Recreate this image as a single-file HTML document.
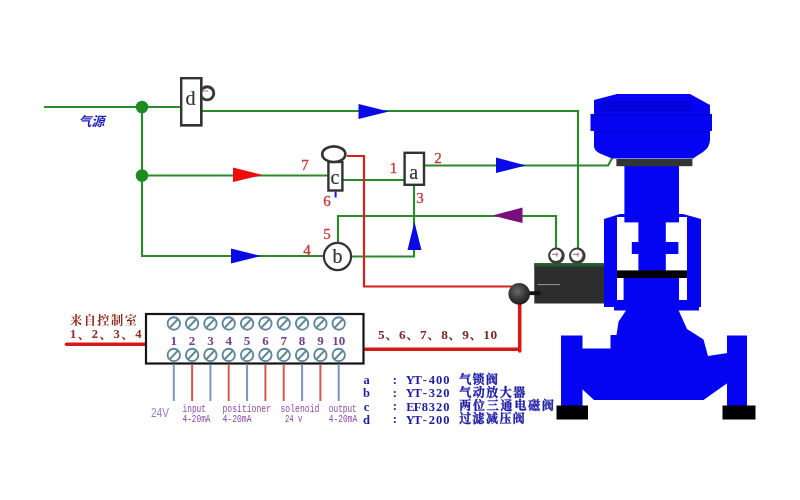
<!DOCTYPE html>
<html lang="zh">
<head>
<meta charset="utf-8">
<title>气动调节阀控制回路图</title>
<style>
html,body{margin:0;padding:0;background:#fff;}
body{width:800px;height:500px;overflow:hidden;position:relative;}
svg{display:block;position:absolute;left:0;top:0;filter:blur(0.55px);}
.g{stroke:#2a8a2a;stroke-width:2.15;fill:none;stroke-linejoin:miter;}
.r{stroke:#da1e1e;stroke-width:2.2;fill:none;}
.rk{stroke:#d81818;stroke-width:3.6;fill:none;stroke-linecap:round;}
.bx{fill:#fff;stroke:#333;stroke-width:2.4;}
.lt{font-family:"Liberation Serif","Noto Serif CJK SC",serif;font-size:20px;fill:#333;stroke:#333;stroke-width:0.2;text-anchor:middle;}
.num{font-family:"Liberation Serif","Noto Serif CJK SC",serif;font-size:15px;fill:#c43636;stroke:#c43636;stroke-width:0.3;text-anchor:middle;}
.tn{font-family:"Liberation Serif","Noto Serif CJK SC",serif;font-size:13px;font-weight:bold;fill:#74408c;text-anchor:middle;}
.sm{font-family:"Liberation Mono","Noto Sans CJK SC",monospace;font-size:10px;fill:#8a4aa8;}
.lg{font-family:"Liberation Serif","Noto Serif CJK SC",serif;font-size:12.5px;font-weight:bold;fill:#1c1ca6;text-anchor:middle;}
.lgc{font-family:"Liberation Serif","Noto Serif CJK SC",serif;font-size:12px;font-weight:bold;fill:#1c1ca6;stroke:#1c1ca6;stroke-width:0.35;}
.dr{font-family:"Liberation Serif","Noto Serif CJK SC",serif;font-weight:bold;fill:#8c2a1c;}
.tc{fill:#fff;stroke:#5f8799;stroke-width:1.9;}
.tl{stroke:#5f8799;stroke-width:1.9;}
.wb{stroke:#7795bd;stroke-width:2;}
.wr{stroke:#d05a4c;stroke-width:2;}
.bl{fill:#0404f2;}
</style>
</head>
<body>
<svg width="800" height="500" viewBox="0 0 800 500">
<rect x="0" y="0" width="800" height="500" fill="#ffffff"/>

<!-- ============ green pneumatic lines ============ -->
<g class="g">
  <path d="M44 107 H181"/>
  <path d="M201 111 H578 V249"/>
  <path d="M142 107 V256 H323"/>
  <path d="M142 175.5 H328"/>
  <path d="M343 180 H404"/>
  <path d="M424 165.5 H608 L614 155"/>
  <path d="M352 256.5 H414 V186"/>
  <path d="M338 242 V216 H556 V249"/>
</g>
<circle cx="142" cy="107" r="6.3" fill="#1f8a1f"/>
<circle cx="142" cy="175.5" r="6.3" fill="#1f8a1f"/>

<!-- ============ arrows ============ -->
<polygon points="358.5,104 358.5,119 389,111.5" fill="#0a0ae6"/>
<polygon points="233,167.5 233,182 262.5,175" fill="#ee0d0d"/>
<polygon points="231,248.5 231,263.5 261,256" fill="#0a0ae6"/>
<polygon points="496,157.5 496,173 526,165.5" fill="#0a0ae6"/>
<polygon points="407.5,250 421.5,250 414.4,222" fill="#0a0ae6"/>
<polygon points="522.5,207.5 522.5,223 492.5,215.5" fill="#7a0f7c"/>

<!-- ============ red electrical lines ============ -->
<path class="r" d="M347 156 H364 V286.5 H512"/>
<path class="rk" d="M519.7 300 V351 M519.7 349.3 H365.5"/>
<path class="rk" d="M66.5 344.3 H145"/>

<!-- ============ component d ============ -->
<rect class="bx" x="181.2" y="78.2" width="20" height="47"/>
<circle cx="207.2" cy="93.3" r="6.6" fill="#fff" stroke="#383838" stroke-width="2.9"/>
<rect x="191" y="82" width="11.2" height="22" fill="#fff"/>
<rect class="bx" x="181.2" y="78.2" width="20" height="47" fill="none"/>
<path d="M203 91 h5" stroke="#c66" stroke-width="1"/>
<text class="lt" x="190.5" y="104.5">d</text>

<!-- ============ component c ============ -->
<rect class="bx" x="328.4" y="162" width="14" height="28.5"/>
<ellipse cx="333.8" cy="154.2" rx="11.6" ry="7.8" fill="#fff" stroke="#333" stroke-width="2.6"/>
<path d="M335.6 191.5 V197.5" stroke="#1a1acc" stroke-width="2"/>
<text class="lt" x="335" y="184">c</text>

<!-- ============ component a ============ -->
<rect class="bx" x="404.6" y="152.8" width="19.4" height="32"/>
<text class="lt" x="413.8" y="178.5">a</text>

<!-- ============ component b ============ -->
<circle cx="337.5" cy="256.5" r="13.6" fill="#fff" stroke="#333" stroke-width="2.2"/>
<text class="lt" x="337.5" y="263">b</text>

<!-- ============ port numbers ============ -->
<text class="num" x="305" y="170">7</text>
<text class="num" x="327" y="205.5">6</text>
<text class="num" x="393.5" y="172.5">1</text>
<text class="num" x="438" y="162.5">2</text>
<text class="num" x="420" y="202.5">3</text>
<text class="num" x="327" y="238.5">5</text>
<text class="num" x="307" y="254.5">4</text>

<!-- ============ 气源 label ============ -->
<text x="78.5" y="125.5" font-family='"Liberation Sans","Noto Sans CJK SC",sans-serif' font-size="13" font-weight="bold" font-style="italic" fill="#1b1bb8">气源</text>

<!-- ============ positioner box + gauges + ball ============ -->
<circle cx="556.4" cy="255.8" r="8.3" fill="#3d3d3d"/>
<circle cx="577.3" cy="255.8" r="8.3" fill="#3d3d3d"/>
<circle cx="555.9" cy="255.2" r="5.7" fill="#fff"/>
<circle cx="576.8" cy="255.2" r="5.7" fill="#fff"/>
<path d="M552 254.3 h6 m-1.2 -1.6 v4" stroke="#a55" stroke-width="0.9" fill="none"/>
<path d="M573 254.3 h6 m-1.2 -1.6 v4" stroke="#a55" stroke-width="0.9" fill="none"/>
<rect x="534.3" y="263.3" width="70" height="40.2" fill="#2d2d2d"/>
<rect x="534.3" y="263.3" width="70" height="3.2" fill="#225a2c"/>
<path d="M537.4 284.6 H560" stroke="#9a9a9a" stroke-width="1"/>
<path d="M528 293.2 H540.5" stroke="#111" stroke-width="3.8"/>
<defs>
  <radialGradient id="ball" cx="0.42" cy="0.38" r="0.65">
    <stop offset="0" stop-color="#6a6a6a"/>
    <stop offset="0.55" stop-color="#3a3a3a"/>
    <stop offset="1" stop-color="#1c1c1c"/>
  </radialGradient>
</defs>
<circle cx="519.2" cy="293.8" r="10.8" fill="url(#ball)"/>

<!-- ============ terminal box ============ -->
<rect x="146" y="314" width="217.5" height="49.5" fill="#fff" stroke="#141414" stroke-width="2.2"/>
<g id="terms">
<circle class="tc" cx="173.8" cy="323.5" r="6.2"/><path class="tl" d="M169.4 328.0 L178.1 319.0"/>
<circle class="tc" cx="173.8" cy="355" r="6.2"/><path class="tl" d="M169.4 359.5 L178.1 350.5"/>
<text class="tn" x="173.8" y="345.3">1</text>
<path class="wb" d="M173.8 364.4 V401"/>
<circle class="tc" cx="192.1" cy="323.5" r="6.2"/><path class="tl" d="M187.8 328.0 L196.4 319.0"/>
<circle class="tc" cx="192.1" cy="355" r="6.2"/><path class="tl" d="M187.8 359.5 L196.4 350.5"/>
<text class="tn" x="192.1" y="345.3">2</text>
<path class="wr" d="M192.1 364.4 V401"/>
<circle class="tc" cx="210.4" cy="323.5" r="6.2"/><path class="tl" d="M206.1 328.0 L214.7 319.0"/>
<circle class="tc" cx="210.4" cy="355" r="6.2"/><path class="tl" d="M206.1 359.5 L214.7 350.5"/>
<text class="tn" x="210.4" y="345.3">3</text>
<path class="wb" d="M210.4 364.4 V401"/>
<circle class="tc" cx="228.7" cy="323.5" r="6.2"/><path class="tl" d="M224.4 328.0 L233.0 319.0"/>
<circle class="tc" cx="228.7" cy="355" r="6.2"/><path class="tl" d="M224.4 359.5 L233.0 350.5"/>
<text class="tn" x="228.7" y="345.3">4</text>
<path class="wr" d="M228.7 364.4 V401"/>
<circle class="tc" cx="247.1" cy="323.5" r="6.2"/><path class="tl" d="M242.8 328.0 L251.4 319.0"/>
<circle class="tc" cx="247.1" cy="355" r="6.2"/><path class="tl" d="M242.8 359.5 L251.4 350.5"/>
<text class="tn" x="247.1" y="345.3">5</text>
<path class="wb" d="M247.1 364.4 V401"/>
<circle class="tc" cx="265.4" cy="323.5" r="6.2"/><path class="tl" d="M261.1 328.0 L269.7 319.0"/>
<circle class="tc" cx="265.4" cy="355" r="6.2"/><path class="tl" d="M261.1 359.5 L269.7 350.5"/>
<text class="tn" x="265.4" y="345.3">6</text>
<path class="wr" d="M265.4 364.4 V401"/>
<circle class="tc" cx="283.7" cy="323.5" r="6.2"/><path class="tl" d="M279.4 328.0 L288.0 319.0"/>
<circle class="tc" cx="283.7" cy="355" r="6.2"/><path class="tl" d="M279.4 359.5 L288.0 350.5"/>
<text class="tn" x="283.7" y="345.3">7</text>
<path class="wr" d="M283.7 364.4 V401"/>
<circle class="tc" cx="302.1" cy="323.5" r="6.2"/><path class="tl" d="M297.8 328.0 L306.4 319.0"/>
<circle class="tc" cx="302.1" cy="355" r="6.2"/><path class="tl" d="M297.8 359.5 L306.4 350.5"/>
<text class="tn" x="302.1" y="345.3">8</text>
<path class="wb" d="M302.1 364.4 V401"/>
<circle class="tc" cx="320.4" cy="323.5" r="6.2"/><path class="tl" d="M316.1 328.0 L324.7 319.0"/>
<circle class="tc" cx="320.4" cy="355" r="6.2"/><path class="tl" d="M316.1 359.5 L324.7 350.5"/>
<text class="tn" x="320.4" y="345.3">9</text>
<path class="wr" d="M320.4 364.4 V401"/>
<circle class="tc" cx="338.7" cy="323.5" r="6.2"/><path class="tl" d="M334.4 328.0 L343.0 319.0"/>
<circle class="tc" cx="338.7" cy="355" r="6.2"/><path class="tl" d="M334.4 359.5 L343.0 350.5"/>
<text class="tn" x="338.7" y="345.3">10</text>
<path class="wb" d="M338.7 364.4 V401"/>
</g>

<!-- ============ valve ============ -->
<g class="bl">
  <!-- actuator head -->
  <path d="M617 94 H690 L710 105 V114 H712 V131 H710 V140 Q710 147 703 152 L693 158.5 H612 L600 153.5 Q594 151 594 146 V131 H590.5 V114 H594 V100 Z"/>
  <!-- upper stem -->
  <rect x="624.4" y="165" width="54.6" height="57.4"/>
  <!-- narrow stem -->
  <rect x="638.4" y="220" width="27.4" height="52"/>
  <rect x="631.8" y="242" width="46.6" height="12"/>
  <!-- yoke arms -->
  <path d="M604 219 L620 214 H625 V217 H617 V307 H604 Z"/>
  <path d="M701 219 L683 214 H678 V217 H687 V307 H701 Z"/>
  <!-- lower plug -->
  <rect x="623.6" y="277" width="55.4" height="26"/>
  <!-- yoke bottom -->
  <path d="M604 300 H701 V307 H699 V310.5 H614 V307 H604 Z"/>
  <rect x="617" y="301.5" width="70" height="6"/>
  <!-- bonnet + body -->
  <path d="M627 309 H678 L687 329 L703.5 339.5 L708 356 L727.5 353 V383 L703.5 400 H594 L582 389 V348.5 H610.5 V335 H616.5 L618.6 321.5 Z"/>
  <!-- flanges -->
  <rect x="561" y="335.5" width="21.5" height="72"/>
  <rect x="727" y="335.5" width="20" height="72"/>
</g>
<!-- head shading -->
<rect x="601" y="101" width="91" height="10" rx="3" fill="#0000c4" opacity="0.5"/>
<rect x="591" y="114" width="120.5" height="2" fill="#0000c8" opacity="0.6"/>
<rect x="594" y="131" width="116" height="2" fill="#0000c8" opacity="0.6"/>
<!-- grey plate -->
<rect x="616.4" y="159" width="76" height="7.2" fill="#333"/>
<!-- black bar -->
<rect x="617" y="270.4" width="70" height="7.6" fill="#000"/>
<!-- feet -->
<rect x="556.5" y="405.5" width="31.5" height="14" fill="#000"/>
<rect x="722.5" y="405.5" width="33" height="14" fill="#000"/>

<!-- ============ text labels ============ -->
<text class="dr" x="70" y="325.3" font-size="12.2" letter-spacing="1.5">来自控制室</text>
<text class="dr" x="70" y="338.3" font-size="12.6" letter-spacing="1.45">1、2、3、4</text>
<text class="dr" x="378" y="338.8" font-size="13.3" letter-spacing="0.55" style="fill:#7a2a22">5、6、7、8、9、10</text>

<text x="151" y="417.4" textLength="18" lengthAdjust="spacingAndGlyphs" font-family='"Liberation Sans",sans-serif' font-size="13.5" fill="#a07ab8">24V</text>
<text class="sm" x="182.5" y="411.8" textLength="23.5" lengthAdjust="spacingAndGlyphs">input</text>
<text class="sm" x="182.5" y="422.3" textLength="28" lengthAdjust="spacingAndGlyphs">4-20mA</text>
<text class="sm" x="222.5" y="411.8" textLength="48.5" lengthAdjust="spacingAndGlyphs">positioner</text>
<text class="sm" x="222.5" y="422.3" textLength="29" lengthAdjust="spacingAndGlyphs">4-20mA</text>
<text class="sm" x="280.5" y="411.8" textLength="39" lengthAdjust="spacingAndGlyphs">solenoid</text>
<text class="sm" x="285" y="422.3" textLength="17.5" lengthAdjust="spacingAndGlyphs">24 v</text>
<text class="sm" x="328.8" y="411.8" textLength="28" lengthAdjust="spacingAndGlyphs">output</text>
<text class="sm" x="328.8" y="422.3" textLength="28.5" lengthAdjust="spacingAndGlyphs">4-20mA</text>

<text class="lg" x="366.6" y="384.3">a</text><text class="lg" x="394.8" y="384.0">:</text><text class="lg" x="410.35 417.55 424.75 431.95 439.15 446.35" y="384.3">YT-400</text><text class="lgc" x="459.2" y="383.9" letter-spacing="1.4">气锁阀</text>
<text class="lg" x="366.6" y="397.3">b</text><text class="lg" x="394.8" y="397.0">:</text><text class="lg" x="410.35 417.55 424.75 431.95 439.15 446.35" y="397.3">YT-320</text><text class="lgc" x="459.2" y="396.9" letter-spacing="1.5">气动放大器</text>
<text class="lg" x="366.6" y="410.6">c</text><text class="lg" x="394.8" y="410.3">:</text><text class="lg" x="410.35 417.55 424.75 431.95 439.15 446.35" y="410.6">EF8320</text><text class="lgc" x="459.2" y="410.2" letter-spacing="1.8">两位三通电磁阀</text>
<text class="lg" x="366.6" y="423.7">d</text><text class="lg" x="394.8" y="423.4">:</text><text class="lg" x="410.35 417.55 424.75 431.95 439.15 446.35" y="423.7">YT-200</text><text class="lgc" x="459.2" y="423.3" letter-spacing="1.4">过滤减压阀</text>
</svg>
</body>
</html>
